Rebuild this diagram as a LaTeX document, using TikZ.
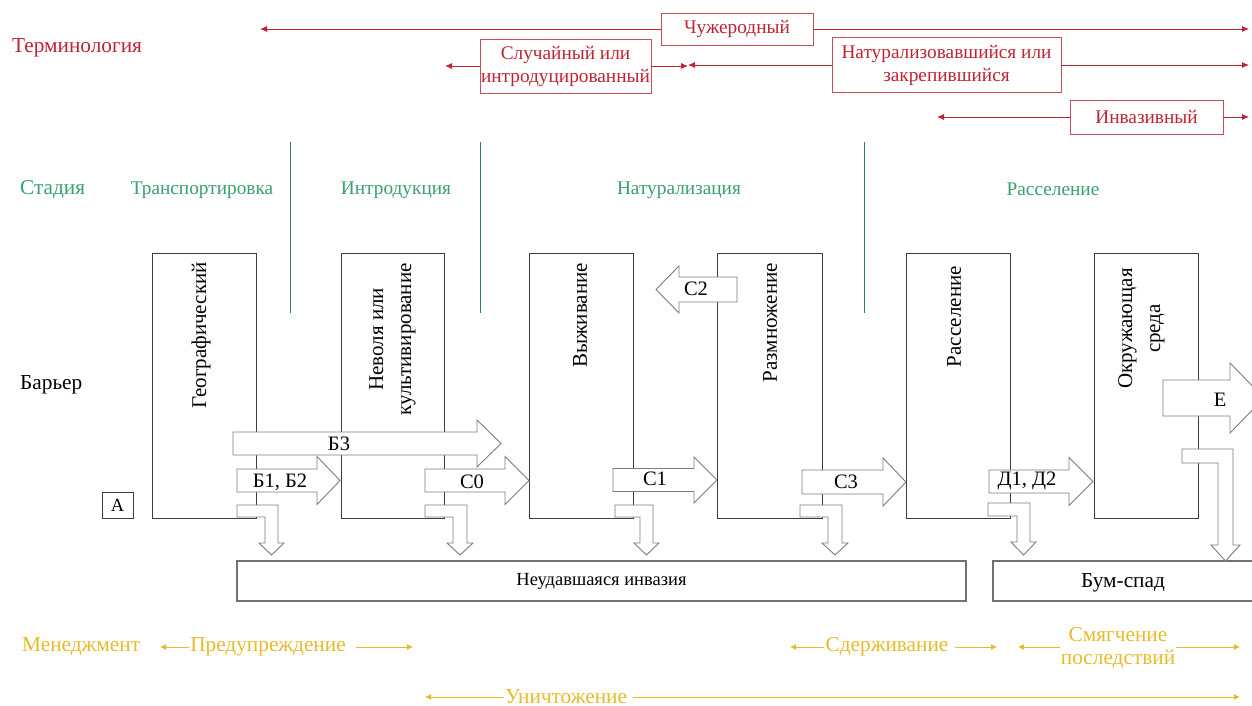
\documentclass[tikz,border=0pt]{standalone}
\usepackage{fontspec}
\setmainfont{Liberation Serif}
\usetikzlibrary{arrows.meta}
\definecolor{termred}{RGB}{190,35,50}
\definecolor{stagegreen}{RGB}{55,160,110}
\definecolor{mgmtyellow}{RGB}{232,186,40}
\definecolor{arrowgray}{RGB}{125,125,125}
\definecolor{boxline}{RGB}{60,60,60}
\newcommand{\rblock}[6]{%
  \draw[blk] (#1,{#4-#5}) -- (#2,{#4-#5}) -- (#2,{#4-#6}) -- (#3,#4) -- (#2,{#4+#6}) -- (#2,{#4+#5}) -- (#1,{#4+#5}) -- cycle;}
\newcommand{\bblock}[8]{%
  \draw[blk] (#1,#4) -- (#3,#4) -- (#3,#6) -- ({#3+#8},#6) -- ({(#2+#3)/2},#7) -- ({#2-#8},#6) -- (#2,#6) -- (#2,#5) -- (#1,#5) -- cycle;}
\begin{document}
\begin{tikzpicture}[x=1pt,y=-1pt,
  font=\fontsize{18.5}{23}\selectfont,
  barrier/.style={draw=boxline, line width=0.8pt, minimum width=104pt, minimum height=265pt, inner sep=0pt},
  rottext/.style={rotate=90, anchor=east, inner sep=0pt, align=center, text=black, font=\fontsize{21}{28}\selectfont},
  blk/.style={draw=arrowgray, fill=white, line width=0.9pt, line join=miter},
  bottombox/.style={draw=arrowgray!90!black, line width=1.1pt, minimum height=40pt, inner sep=0pt},
  term/.style={draw=termred!80, line width=0.9pt, text=termred, inner sep=0pt, align=center, font=\fontsize{19.3}{23}\selectfont},
  termarrow/.style={draw=termred, line width=0.9pt, -{Latex[length=7pt,width=6pt]}},
  stage/.style={text=stagegreen, inner sep=0pt, font=\fontsize{19.3}{23}\selectfont},
  stageline/.style={draw=stagegreen!85!black, line width=0.9pt},
  mgmt/.style={text=mgmtyellow, inner sep=0pt, align=center, font=\fontsize{21.3}{23}\selectfont},
  mgmtarrow/.style={draw=mgmtyellow, line width=0.9pt, -{Latex[length=6pt,width=6pt]}},
  lbl/.style={inner sep=0pt},
  biglbl/.style={inner sep=0pt, font=\fontsize{21.3}{26}\selectfont},
  alabel/.style={inner sep=0pt, font=\fontsize{20.5}{24}\selectfont}
]
\useasboundingbox (0,0) rectangle (1252,706);
\clip (0,0) rectangle (1252,706);

% ---------- left labels ----------
\node[biglbl, text=termred, anchor=west] (lterm) at (12,48) {Терминология};
\node[biglbl, text=stagegreen, anchor=west] (lstage) at (20,190) {Стадия};
\node[biglbl, anchor=west] (lbar) at (20,385) {Барьер};
\node[mgmt, anchor=west] (lmgmt) at (22,647) {Менеджмент};

% ---------- terminology ----------
\node[term, minimum width=152pt, minimum height=32pt] (alien) at (737,29) {Чужеродный};
\node[term, minimum width=171pt, minimum height=54pt] (casual) at (565.5,66) {Случайный или\\интродуцированный};
\node[term, minimum width=229pt, minimum height=55pt] (natur) at (946.5,65) {Натурализовавшийся или\\закрепившийся};
\node[term, minimum width=153pt, minimum height=34pt] (invas) at (1146.5,117) {Инвазивный};
\coordinate (alienL) at (260,29);
\coordinate (alienR) at (1249,29);
\coordinate (casualL) at (445,66);
\coordinate (casualR) at (688,66);
\coordinate (naturL) at (688,65);
\coordinate (naturR) at (1249,65);
\coordinate (invasL) at (937,117);
\coordinate (invasR) at (1249,117);
\draw[termarrow] (alien.west) -- (alienL);
\draw[termarrow] (alien.east) -- (alienR);
\draw[termarrow] (casual.west) -- (casualL);
\draw[termarrow] (casual.east) -- (casualR);
\draw[termarrow] (natur.west) -- (naturL);
\draw[termarrow] (natur.east) -- (naturR);
\draw[termarrow] (invas.west) -- (invasL);
\draw[termarrow] (invas.east) -- (invasR);

% ---------- stages ----------
\node[stage] (sTrans) at (202,190) {Транспортировка};
\node[stage] (sIntro) at (396,190) {Интродукция};
\node[stage] (sNat) at (679,190) {Натурализация};
\node[stage] (sSpread) at (1053,189) {Расселение};
\coordinate (g1t) at (290,142); \coordinate (g1b) at (290,313);
\coordinate (g2t) at (480,142); \coordinate (g2b) at (480,313);
\coordinate (g3t) at (864,142); \coordinate (g3b) at (864,313);
\draw[stageline] (g1t) -- (g1b);
\draw[stageline] (g2t) -- (g2b);
\draw[stageline] (g3t) -- (g3b);

% ---------- barriers ----------
\node[barrier] (b1) at (204,385.5) {};
\node[barrier, minimum width=103pt] (b2) at (392.5,385.5) {};
\node[barrier] (b3) at (581,385.5) {};
\node[barrier, minimum width=105pt] (b4) at (769.5,385.5) {};
\node[barrier] (b5) at (958,385.5) {};
\node[barrier] (b6) at (1146,385.5) {};
\node[rottext] (t1) at (201,262) {Географический};
\node[rottext] (t2) at (392.5,263) {Неволя или\\культивирование};
\node[rottext] (t3) at (580,263) {Выживание};
\node[rottext] (t4) at (770,263) {Размножение};
\node[rottext] (t5) at (954,266) {Расселение};
\node[rottext] (t6) at (1141.5,268) {Окружающая\\среда};
\node[draw=boxline, line width=0.8pt, minimum width=31pt, minimum height=26pt, inner sep=0pt] (A) at (117.5,505) {А};

% ---------- bottom boxes ----------
\node[bottombox, minimum width=729pt] (fail) at (601.5,581) {Неудавшаяся инвазия};
\node[bottombox, minimum width=272pt] (boom) at (1129,581) {};
\node[biglbl] (boomtxt) at (1123,583) {Бум-спад};

% ---------- block arrows ----------
\rblock{233}{477}{501}{443.5}{11.5}{23.5}
\rblock{237}{317}{340}{480.5}{11.5}{24}
\rblock{425}{505}{529}{480.5}{11.5}{24}
\rblock{613}{694}{717}{480}{11.5}{23}
\rblock{802}{883}{906}{482}{12}{24}
\rblock{989}{1069}{1093}{481.5}{11.5}{24}
\rblock{737}{679}{656}{289.5}{12.5}{23.5}
\rblock{1163}{1230}{1264}{398}{18}{35}
\bblock{237}{265}{278}{505}{517}{543}{555}{6}
\bblock{425}{453}{467}{505}{517}{543}{555}{6}
\bblock{615}{640}{653}{505}{517}{543}{555}{6}
\bblock{800}{828}{842}{505}{517}{543}{555}{6}
\bblock{988}{1017}{1030}{503}{516}{542}{555}{6}
\bblock{1182}{1218}{1233}{449}{463}{545}{561}{7}
\node[alabel] (aB3) at (339,444) {Б3};
\node[alabel] (aB12) at (280,482) {Б1, Б2};
\node[alabel] (aC0) at (472,482) {С0};
\node[alabel] (aC1) at (655,479) {С1};
\node[alabel] (aC2) at (696,289) {С2};
\node[alabel] (aC3) at (846,482) {С3};
\node[alabel] (aD12) at (1027,481) {Д1, Д2};
\node[alabel] (aE) at (1220,400) {Е};

% ---------- management ----------
\node[mgmt] (prev) at (268,647) {Предупреждение};
\node[mgmt] (cont) at (887,647) {Сдерживание};
\node[mgmt] (mitig) at (1118,648) {Смягчение\\последствий};
\node[mgmt] (erad) at (566,697) {Уничтожение};
\coordinate (prevL) at (160,647); \coordinate (prevR0) at (356,647); \coordinate (prevR) at (413,647);
\coordinate (contL) at (790,647); \coordinate (contR0) at (955,647); \coordinate (contR) at (997,647);
\coordinate (mitL0) at (1060,647); \coordinate (mitL) at (1018,647); \coordinate (mitR0) at (1176,647); \coordinate (mitR) at (1240,647);
\coordinate (eradL) at (425,697); \coordinate (eradR0) at (633,697); \coordinate (eradR) at (1240,697);
\draw[mgmtarrow] ([xshift=-1pt]prev.west) -- (prevL);
\draw[mgmtarrow] (prevR0) -- (prevR);
\draw[mgmtarrow] ([xshift=-1pt]cont.west) -- (contL);
\draw[mgmtarrow] (contR0) -- (contR);
\draw[mgmtarrow] (mitL0) -- (mitL);
\draw[mgmtarrow] (mitR0) -- (mitR);
\draw[mgmtarrow] ([xshift=-1pt]erad.west) -- (eradL);
\draw[mgmtarrow] (eradR0) -- (eradR);
\end{tikzpicture}
\end{document}
